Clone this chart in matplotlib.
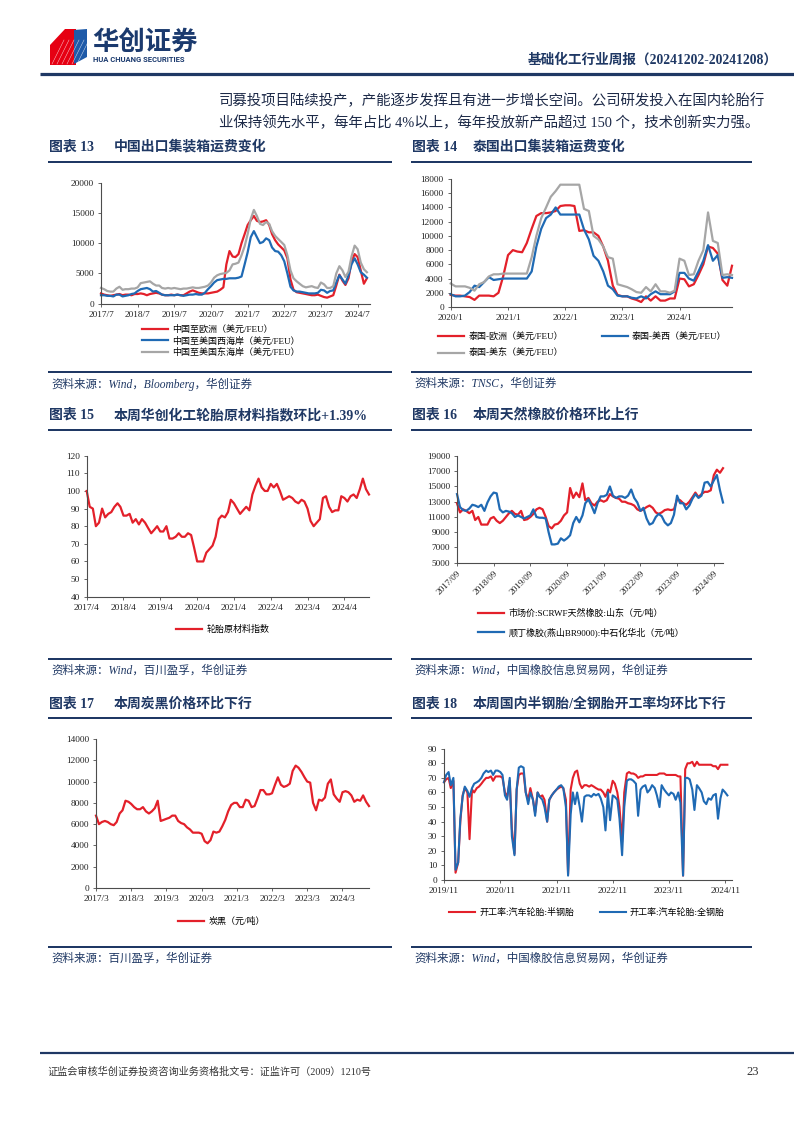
import matplotlib
matplotlib.use('Agg')
import matplotlib.pyplot as plt
import matplotlib.dates as mdates
from matplotlib.lines import Line2D
from matplotlib.patches import Polygon
import pandas as pd

W, H = 794, 1123
NAVY = '#1F3864'
RED = '#E3202A'
BLUE = '#1F6AB4'
GRAY = '#A6A6A6'
TXT = '#222222'

plt.rcParams['font.family'] = ['Liberation Serif', 'Noto Sans CJK SC']
plt.rcParams['axes.unicode_minus'] = False

# ---- chart 13: China export container freight (monthly, from 2017/7)
c13_eu = [1700, 1500, 1400, 1300, 1400, 1500, 1600, 1400, 1500, 1500, 1400, 1600,
          1600, 1700, 1600, 1400, 1600, 1700, 1800, 1700, 1500, 1400, 1400, 1500,
          1400, 1500, 1400, 1400, 1700, 2000, 2200, 2000, 1800, 1700, 1700, 1700,
          1800, 1900, 2000, 2300, 2700, 6500, 8700, 7800, 7700, 8200, 10000, 11500,
          13000, 13800, 14500, 13700, 13500, 13600, 13800, 13000, 11500, 10500, 9800, 9300,
          8800, 7500, 4000, 2300, 1900, 1800, 1700, 1600, 1500, 1400, 1400, 1500,
          1300, 1100, 1000, 1200, 1400, 3000, 4800, 3800, 3100, 4200, 7000, 8200,
          7700, 5500, 3300, 4200]
c13_usw = [1400, 1400, 1300, 1300, 1200, 1500, 1500, 1200, 1300, 1400, 1600, 1700,
           2100, 2400, 2500, 2600, 2400, 2000, 2100, 1800, 1500, 1400, 1400, 1400,
           1400, 1500, 1400, 1300, 1400, 1500, 1500, 1600, 1500, 1500, 1800, 2400,
           2900, 3500, 3900, 4000, 4100, 4100, 4200, 4200, 4200, 4300, 4500, 6500,
           8500, 11000, 12000, 11000, 10000, 10200, 10800, 10500, 9300, 8700, 8600, 8000,
           7000, 5000, 2800, 2200, 2000, 2000, 1900, 1800, 1700, 1700, 1700, 1800,
           2300, 2200, 1800, 2100, 2200, 3500, 4700, 4000, 3300, 4700, 6500, 7500,
           6500, 5200, 4800, 4300]
c13_use = [2600, 2400, 2100, 2000, 2000, 2500, 2800, 2300, 2400, 2400, 2500, 2500,
           2700, 3400, 3500, 3600, 3700, 3300, 3000, 3000, 2600, 2500, 2600, 2500,
           2600, 2500, 2400, 2500, 2500, 2600, 2700, 2600, 2600, 2700, 2800, 3000,
           3500, 4300, 4700, 4900, 5000, 5100, 5500, 6500, 6600, 6800, 8000, 9500,
           11500, 14000, 15500, 14500, 13200, 13000, 13500, 13200, 12000, 11200, 10700, 10200,
           9700, 8000, 5500, 4200, 3700, 3300, 2900, 2700, 2800, 2900, 2700, 2600,
           3500, 3200, 2600, 2600, 2900, 5000, 6200, 5500, 4400, 5300, 7800, 9600,
           9000, 6800, 5700, 5200]
c13_labels = ['中国至欧洲（美元/FEU）', '中国至美国西海岸（美元/FEU）', '中国至美国东海岸（美元/FEU）']

# ---- chart 14: Thailand export container freight (monthly, from 2020/1)
c14_eu = [1700, 1600, 1600, 1500, 1400, 1000, 1600, 1600, 1600, 1500, 2000, 4300,
          7300, 8000, 7800, 7700, 9000, 11000, 12800, 13200, 13200, 13300, 13500, 14200,
          14300, 14300, 14200, 10700, 10800, 10500, 10500, 10000, 8500, 6500, 3000, 1700,
          1500, 1500, 1200, 1000, 700, 1500, 900, 1500, 900, 900, 1200, 1200,
          4000, 3900, 2900, 3200, 4500, 6000, 8500, 8300, 7500, 3800, 3000, 5800]
c14_usw = [1800, 1500, 1500, 1600, 2100, 3000, 2800, 3500, 4200, 3800, 3900, 4000,
           4000, 4000, 4000, 4000, 4000, 5000, 8500, 11000, 12500, 13000, 14000, 13000,
           13000, 13000, 13000, 13000, 10900, 9500, 7200, 6500, 5000, 3000, 2500, 1600,
           1500, 1500, 1300, 1200, 1500, 1200, 1800, 2200, 1800, 1800, 1800, 2200,
           4800, 4800, 4000, 3700, 5000, 6500, 8700, 6500, 7300, 4100, 4200, 4100]
c14_use = [3300, 2900, 2900, 2900, 2700, 2300, 3200, 3500, 4300, 4600, 4600, 4700,
           4700, 4700, 4700, 4700, 4700, 7000, 10000, 12500, 14000, 15500, 16300, 17200,
           17200, 17200, 17200, 17200, 13800, 13500, 10000, 9500, 8500, 7000, 6800, 3200,
           3000, 2800, 2500, 2100, 2000, 2800, 2200, 3200, 2200, 2200, 2000, 2300,
           6800, 6500, 4500, 4600, 6500, 8000, 13300, 9300, 9000, 4500, 4600, 4500]
c14_labels = ['泰国-欧洲（美元/FEU）', '泰国-美西（美元/FEU）', '泰国-美东（美元/FEU）']

# ---- chart 15: tyre raw material index (monthly, from 2017/4)
c15_idx = [100, 91, 90, 80, 82, 90, 85, 87, 88, 91, 93, 91,
           86, 86, 87, 82, 84, 81, 84, 82, 79, 76, 78, 80,
           77, 77, 80, 73, 73, 74, 76, 74, 74, 76, 75, 68,
           60, 60, 60, 65, 67, 69, 74, 84, 86, 85, 88, 95,
           93, 90, 87, 89, 91, 89, 98, 103, 107, 102, 100, 100,
           104, 102, 104, 100, 95, 96, 97, 96, 94, 93, 95, 94,
           90, 83, 80, 82, 84, 96, 97, 91, 88, 89, 89, 97,
           96, 94, 97, 98, 96, 101, 107, 101, 98]
c15_label = '轮胎原材料指数'

# ---- chart 16: natural rubber / BR prices (monthly, from 2017/9)
c16_nr = [12800, 11600, 12000, 11800, 11500, 11800, 10600, 11000, 10000, 10000, 10000, 10800,
          11000, 10500, 10200, 10500, 11000, 11500, 11800, 11400, 11300, 11800, 10600, 10700,
          11000, 11400, 12000, 12200, 12000, 11000, 9800, 9500, 10000, 10100, 10500, 11200,
          11600, 14800, 13500, 14200, 13600, 15400, 13200, 13500, 12800, 12500, 13000, 13200,
          13000, 13200, 14000, 13700, 13500, 13400, 13000, 13000, 12800, 12700, 12500, 12000,
          11800, 12000, 12300, 12500, 12200, 11600, 11400, 11600, 11900, 12000, 11900, 12000,
          13300, 13200, 12800, 12600, 13000, 13600, 14200, 13600, 14000, 14300, 14300, 14500,
          16500, 17200, 16800, 17400]
c16_br = [14000, 12300, 11900, 11800, 12100, 12600, 12500, 12300, 12600, 11800, 12900, 13700,
          14200, 14100, 12000, 11600, 11800, 11700, 11500, 11000, 11200, 11000, 10800, 11000,
          11200, 12000, 11000, 10900, 10900, 10800, 9000, 7400, 7400, 7500, 8200, 7900,
          8200, 8600, 10200, 11000, 10300, 11200, 12800, 13300, 12500, 11500, 12800, 13700,
          13700, 13900, 15000, 13800, 13500, 13700, 13700, 13500, 13800, 14600, 13500, 12900,
          11800, 12200, 10800, 10000, 10200, 11000, 11400, 11100, 10300, 9900, 10200, 11300,
          13800, 12800, 12800, 12000, 12500, 13400, 14000, 13500, 13800, 15500, 15600, 15000,
          15800, 16500, 14500, 12900]
c16_labels = ['市场价:SCRWF天然橡胶:山东（元/吨）', '顺丁橡胶(燕山BR9000):中石化华北（元/吨）']

# ---- chart 17: carbon black price (monthly, from 2017/3)
c17_cb = [6800, 6000, 6200, 6300, 6200, 6000, 5900, 6200, 7000, 7300, 8200, 8100,
          7900, 7600, 7400, 7400, 7600, 7200, 7000, 7200, 7500, 8200, 6300, 6400,
          6500, 6600, 6800, 6800, 6300, 6100, 6000, 5700, 5500, 5200, 5200, 5200,
          5100, 4400, 4200, 4500, 5300, 5200, 5300, 5800, 6400, 7200, 7800, 8000,
          8000, 7600, 7600, 8300, 8200, 7600, 7700, 8400, 9200, 9200, 8800, 8800,
          8900, 9700, 10400, 9700, 9500, 9600, 9800, 11000, 11500, 11300, 10900, 10400,
          10000, 9900, 8000, 7300, 8300, 8200, 8500, 9800, 10200, 8800, 8400, 8100,
          9000, 9100, 9000, 8700, 8100, 8300, 8200, 8700, 8100, 7700]
c17_label = '炭黑（元/吨）'

# ---- chart 18: tyre operating rates (semi-monthly, from 2019/11)
c18_semi = [67, 69, 70, 63, 68, 5, 12, 40, 58, 63, 60, 28,
            62, 60, 63, 64, 66, 68, 70, 70, 71, 68, 71, 71,
            71, 70, 60, 57, 68, 35, 18, 62, 72, 73, 73, 60,
            55, 63, 55, 46, 60, 57, 58, 55, 40, 55, 58, 60,
            62, 63, 64, 63, 55, 4, 62, 70, 74, 75, 66, 63,
            65, 65, 64, 65, 64, 63, 62, 62, 60, 57, 62, 60,
            68, 66, 60, 50, 26, 60, 73, 74, 73, 73, 72, 70,
            71, 71, 72, 72, 72, 72, 72, 72, 73, 73, 73, 72,
            72, 72, 72, 72, 71, 71, 3, 76, 80, 80, 81, 78,
            81, 79, 79, 79, 79, 79, 79, 78, 78, 76, 79, 79,
            79, 79]
c18_full = [67, 72, 74, 65, 70, 7, 12, 42, 57, 64, 61, 57,
            63, 66, 67, 68, 70, 73, 75, 74, 75, 72, 75, 75,
            74, 72, 58, 55, 70, 30, 17, 62, 77, 78, 77, 60,
            52, 60, 55, 44, 60, 57, 55, 50, 40, 55, 58, 60,
            62, 64, 65, 63, 50, 3, 45, 60, 52, 60, 50, 40,
            57, 58, 58, 57, 59, 58, 59, 56, 50, 34, 60, 41,
            58, 57, 55, 42, 17, 50, 68, 69, 69, 68, 66, 44,
            62, 64, 65, 60, 62, 65, 63, 58, 50, 65, 62, 60,
            58, 60, 59, 55, 60, 53, 3, 70, 70, 69, 62, 48,
            65, 63, 60, 54, 52, 56, 55, 58, 59, 42, 56, 62,
            60, 58]
c18_labels = ['开工率:汽车轮胎:半钢胎', '开工率:汽车轮胎:全钢胎']

fig = plt.figure(figsize=(W / 100, H / 100), dpi=100)


def fx(x):
    return x / W


def fy(y):
    return 1 - y / H


def rule(x0, x1, y, px=2.0, color=NAVY):
    fig.add_artist(Line2D([fx(x0), fx(x1)], [fy(y), fy(y)], transform=fig.transFigure,
                          lw=px * 0.72, color=color, solid_capstyle='butt'))


def frame(x, y_title, y_line, y_bottom, num, title, title_dx, source, width):
    fig.text(fx(x), fy(y_title), f'图表 {num}', fontsize=10, fontweight='bold',
             color=NAVY, va='center')
    fig.text(fx(x + title_dx), fy(y_title), title, fontsize=10, fontweight='bold',
             color=NAVY, va='center')
    rule(x - 1, x + width, y_line)
    rule(x - 1, x + width, y_bottom)
    fig.text(fx(x + 2), fy(y_bottom + 12), source, fontsize=8.3, style='italic',
             color=NAVY, va='center')


def make_ax(left, top, right, bottom, start, end, ylim, ystep, tick_start, fmt, rot=0):
    ax = fig.add_axes([fx(left), fy(bottom), (right - left) / W, (bottom - top) / H])
    ax.set_xlim(mdates.date2num(pd.Timestamp(start)), mdates.date2num(pd.Timestamp(end)))
    ax.set_ylim(*ylim)
    ax.set_yticks(range(ylim[0], ylim[1] + 1, ystep))
    ticks = pd.date_range(tick_start, end, freq='12MS')
    ax.set_xticks(mdates.date2num(ticks.values))
    if rot:
        ax.set_xticklabels([fmt(d) for d in ticks], rotation=rot, ha='right',
                           rotation_mode='anchor')
    else:
        ax.set_xticklabels([fmt(d) for d in ticks])
    for s in ['top', 'right']:
        ax.spines[s].set_visible(False)
    for s in ['left', 'bottom']:
        ax.spines[s].set_color('#4d4d4d')
        ax.spines[s].set_linewidth(0.8)
    ax.tick_params(labelsize=6.7, length=2.5, width=0.6, color='#4d4d4d',
                   labelcolor=TXT, pad=2.5)
    ax.patch.set_alpha(0)
    return ax


def series(ax, start, values, color, freq='MS', lw=1.6):
    d = pd.date_range(start, periods=len(values), freq=freq)
    return ax.plot(mdates.date2num(d.values), values, color=color, lw=lw, clip_on=False)[0]


def legend(ax, handles, labels, x, y, ncol=1, colsp=2.0, rowsp=0.3):
    ax.legend(handles, labels, loc='upper left', bbox_to_anchor=(fx(x), fy(y)),
              bbox_transform=fig.transFigure, frameon=False, fontsize=6.5, ncol=ncol,
              handlelength=2.9, handletextpad=0.45, labelspacing=rowsp,
              columnspacing=colsp, borderpad=0, borderaxespad=0)


ym = lambda d: f'{d.year}/{d.month}'

# ---- header
fig.add_artist(Polygon([(fx(50), fy(45)), (fx(65), fy(29)), (fx(76), fy(29)),
                        (fx(76), fy(65)), (fx(50), fy(65))], closed=True,
                       transform=fig.transFigure, fc='#E60012', ec='none'))
fig.add_artist(Polygon([(fx(74), fy(30)), (fx(87), fy(29)), (fx(87), fy(57)),
                        (fx(74), fy(64))], closed=True,
                       transform=fig.transFigure, fc='#1E5AA8', ec='none'))
for k in range(6):
    fig.add_artist(Line2D([fx(52 + 5 * k), fx(64 + 5 * k)], [fy(64), fy(40)],
                          transform=fig.transFigure, lw=0.4, color='white', alpha=0.7))
fig.text(fx(92), fy(42), '华创证券', fontsize=19, fontweight='bold', color='#1B3A6E',
         family=['Noto Sans CJK SC'], va='center')
fig.text(fx(93), fy(60), 'HUA CHUANG SECURITIES', fontsize=5.5, fontweight='bold',
         color='#1B3A6E', family=['Roboto', 'DejaVu Sans'], va='center')
fig.text(fx(778), fy(60), '基础化工行业周报（20241202-20241208）', fontsize=9.8,
         fontweight='bold', color=NAVY, ha='right', va='center')
rule(40, 794, 74, px=3.2)

fig.text(fx(219), fy(101), '司募投项目陆续投产，产能逐步发挥且有进一步增长空间。公司研发投入在国内轮胎行',
         fontsize=10.4, color='#1d2a48', va='center')
fig.text(fx(219), fy(123), '业保持领先水平，每年占比 4%以上，每年投放新产品超过 150 个，技术创新实力强。',
         fontsize=10.4, color='#1d2a48', va='center')

# ---- chart 13
frame(49, 147, 162, 372, 13, '中国出口集装箱运费变化', 65, '资料来源：Wind，Bloomberg，华创证券', 343)
ax = make_ax(101, 182.7, 370, 303.7, '2017-07-01', '2024-11-01', (0, 20000), 5000,
             '2017-07-01', ym)
h1 = series(ax, '2017-07-01', c13_eu, RED)
h2 = series(ax, '2017-07-01', c13_usw, BLUE)
h3 = series(ax, '2017-07-01', c13_use, GRAY)
legend(ax, [h1, h2, h3], c13_labels, 142, 325, rowsp=0.25)

# ---- chart 14
frame(412, 147, 162, 372, 14, '泰国出口集装箱运费变化', 61, '资料来源：TNSC，华创证券', 340)
ax = make_ax(450.7, 179, 732, 307, '2020-01-01', '2024-12-01', (0, 18000), 2000,
             '2020-01-01', ym)
h1 = series(ax, '2020-01-01', c14_eu, RED)
h2 = series(ax, '2020-01-01', c14_usw, BLUE)
h3 = series(ax, '2020-01-01', c14_use, GRAY)
legend(ax, [h1, h3, h2], [c14_labels[0], c14_labels[2], c14_labels[1]], 438, 332,
       ncol=2, colsp=4.3, rowsp=0.85)

# ---- chart 15
frame(49, 415, 430, 659, 15, '本周华创化工轮胎原材料指数环比+1.39%', 65, '资料来源：Wind，百川盈孚，华创证券', 343)
ax = make_ax(86.7, 455.7, 369, 596.7, '2017-04-01', '2024-12-01', (40, 120), 10,
             '2017-04-01', ym)
h1 = series(ax, '2017-04-01', c15_idx, RED)
legend(ax, [h1], [c15_label], 176, 625)

# ---- chart 16
frame(412, 415, 430, 659, 16, '本周天然橡胶价格环比上行', 61, '资料来源：Wind，中国橡胶信息贸易网，华创证券', 340)
ax = make_ax(457, 456, 723, 562.7, '2017-09-01', '2024-12-01', (5000, 19000), 2000,
             '2017-09-01', lambda d: f'{d.year}/{d.month:02d}', rot=45)
h1 = series(ax, '2017-09-01', c16_nr, RED)
h2 = series(ax, '2017-09-01', c16_br, BLUE)
legend(ax, [h1, h2], c16_labels, 478, 609, rowsp=0.95)

# ---- chart 17
frame(49, 704, 718, 947, 17, '本周炭黑价格环比下行', 65, '资料来源：百川盈孚，华创证券', 343)
ax = make_ax(96, 739, 369, 888, '2017-03-01', '2024-12-01', (0, 14000), 2000,
             '2017-03-01', ym)
h1 = series(ax, '2017-03-01', c17_cb, RED)
legend(ax, [h1], [c17_label], 178, 917)

# ---- chart 18
frame(412, 704, 718, 947, 18, '本周国内半钢胎/全钢胎开工率均环比下行', 61, '资料来源：Wind，中国橡胶信息贸易网，华创证券', 340)
ax = make_ax(444, 748.7, 732, 880, '2019-11-01', '2024-12-15', (0, 90), 10,
             '2019-11-01', ym)
h1 = series(ax, '2019-11-01', c18_semi, RED, freq='SMS', lw=1.5)
h2 = series(ax, '2019-11-01', c18_full, BLUE, freq='SMS', lw=1.5)
legend(ax, [h1, h2], c18_labels, 449, 908, ncol=2, colsp=2.8)

# ---- footer
rule(40, 794, 1053, px=2.2)
fig.text(fx(48), fy(1072), '证监会审核华创证券投资咨询业务资格批文号：证监许可（2009）1210号',
         fontsize=7.3, color='#333333', va='center')
fig.text(fx(746), fy(1072), '23', fontsize=9, color='#333333', va='center')

fig.savefig('out.png', dpi=100)
